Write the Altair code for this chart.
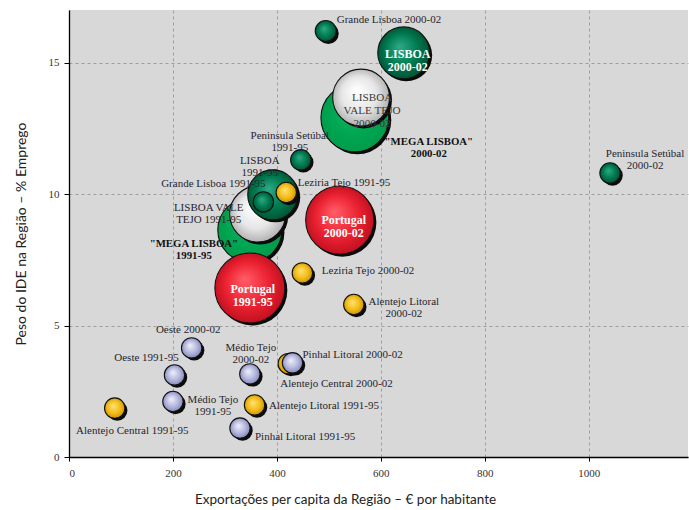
import altair as alt
import pandas as pd

# ---- data -------------------------------------------------------------
nomes = ["\"MEGA LISBOA\"", "\"MEGA LISBOA\"", "LISBOA VALE TEJO", "LISBOA VALE TEJO",
         "LISBOA", "LISBOA", "Grande Lisboa", "Grande Lisboa",
         "Peninsula Setúbal", "Peninsula Setúbal", "Portugal", "Portugal",
         "Leziria Tejo", "Leziria Tejo", "Alentejo Litoral", "Alentejo Litoral",
         "Alentejo Central", "Alentejo Central", "Oeste", "Oeste",
         "Médio Tejo", "Médio Tejo", "Pinhal Litoral", "Pinhal Litoral"]
periodos = ["2000-02", "1991-95", "2000-02", "1991-95",
            "2000-02", "1991-95", "2000-02", "1991-95",
            "1991-95", "2000-02", "1991-95", "2000-02",
            "1991-95", "2000-02", "1991-95", "2000-02",
            "1991-95", "2000-02", "1991-95", "2000-02",
            "1991-95", "2000-02", "1991-95", "2000-02"]
export_pc = [550, 348, 562, 363,
             644, 392, 494, 374,
             446, 1041, 348, 521,
             418, 449, 357, 548,
             88, 422, 203, 236,
             200, 348, 329, 430]
peso_ide = [12.9, 8.63, 13.67, 9.24,
            15.37, 9.97, 16.2, 9.7,
            11.3, 10.8, 6.43, 9.01,
            10.06, 7.0, 1.98, 5.8,
            1.86, 3.55, 3.12, 4.15,
            2.11, 3.16, 1.1, 3.58]
dimensao = [94, 84, 66, 64,
            55, 51, 9, 8.5,
            8.5, 8.5, 100, 95,
            8.5, 8.5, 8.5, 8.5,
            8.5, 8.5, 8.5, 8.5,
            8.5, 8.5, 8.5, 8.5]
grupos = ["mega", "mega", "lvt", "lvt",
          "lisboa", "lisboa", "lisboa", "lisboa",
          "lisboa", "lisboa", "portugal", "portugal",
          "amarelo", "amarelo", "amarelo", "amarelo",
          "amarelo", "amarelo", "lilas", "lilas",
          "lilas", "lilas", "lilas", "lilas"]
rotulos = ["\"MEGA LISBOA\"\n2000-02", "\"MEGA LISBOA\"\n1991-95",
           "LISBOA\nVALE TEJO\n2000-02", "LISBOA VALE\nTEJO 1991-95",
           "LISBOA\n2000-02", "LISBOA\n1991-95",
           "Grande Lisboa 2000-02", "Grande Lisboa 1991-95",
           "Peninsula Setúbal\n1991-95", "Peninsula Setúbal\n2000-02",
           "Portugal\n1991-95", "Portugal\n2000-02",
           "Leziria Tejo 1991-95", "Leziria Tejo 2000-02",
           "Alentejo Litoral 1991-95", "Alentejo Litoral\n2000-02",
           "Alentejo Central 1991-95", "Alentejo Central 2000-02",
           "Oeste 1991-95", "Oeste 2000-02",
           "Médio Tejo\n1991-95", "Médio Tejo\n2000-02",
           "Pinhal Litoral 1991-95", "Pinhal Litoral 2000-02"]

df = pd.DataFrame({
    "i": list(range(len(nomes))),
    "regiao": nomes, "periodo": periodos,
    "x": export_pc, "y": peso_ide, "dim": dimensao,
    "grupo": grupos, "rotulo": rotulos,
})

# ---- label placement (styling) ---------------------------------------
# (dx, dy, align, style)
label_place = [
    (74, 24.5, "center", "b"), (-56, 13.5, "center", "b"),
    (11, 0, "center", "g"), (-49, -6.5, "center", "n"),
    (4, 1, "center", "w"), (-13, -34, "center", "n"),
    (11, -11, "left", "n"), (-50, -18, "center", "n"),
    (-11, -24, "center", "n"), (35, -19, "center", "n"),
    (3, 1, "center", "w"), (4, -0.5, "center", "w"),
    (11.5, -9.5, "left", "n"), (19.5, -2, "left", "n"),
    (14.5, 1, "left", "n"), (50, -2, "center", "n"),
    (17.5, 23, "center", "n"), (-8, 20, "left", "n"),
    (-28, -17, "center", "n"), (-3.5, -18, "center", "n"),
    (40, -1.5, "center", "n"), (1, -26, "center", "n"),
    (15, 9, "left", "n"), (10, -8, "left", "n"),
]

SERIF = "Liberation Serif"

x_enc = alt.X("x:Q",
              scale=alt.Scale(domain=[0, 1191], nice=False, zero=True),
              axis=alt.Axis(values=[0, 200, 400, 600, 800, 1000], format="d",
                            title="Exportações per capita da Região – € por habitante",
                            titleX=276, titleY=42, titleAlign="center",
                            titleBaseline="middle", titleFontSize=13.5,
                            labelPadding=6, tickSize=4))
y_enc = alt.Y("y:Q",
              scale=alt.Scale(domain=[0, 17], nice=False, zero=True),
              axis=alt.Axis(values=[0, 5, 10, 15], format="d",
                            title="Peso do IDE na Região – % Emprego",
                            titleX=-48, titleY=223.5, titleAngle=-90,
                            titleAlign="center", titleBaseline="middle",
                            titleFontSize=14, labelPadding=5, tickSize=5))
size_enc = alt.Size("dim:Q", scale=alt.Scale(domain=[0, 100], range=[0, 4900]),
                    legend=None)

base = alt.Chart(df)


def grad(c0, c1, c2):
    return alt.RadialGradient(
        gradient="radial",
        stops=[alt.GradientStop(offset=0, color=c0),
               alt.GradientStop(offset=0.55, color=c1),
               alt.GradientStop(offset=1, color=c2)],
        x1=0.42, y1=0.38, r1=0.02, x2=0.5, y2=0.5, r2=0.55)


fills = {
    "mega": grad("#10b060", "#00a651", "#00994a"),
    "lvt": grad("#ffffff", "#e6e6e6", "#a9a9a9"),
    "lisboa": grad("#2aa883", "#007a50", "#004d30"),
    "portugal": grad("#ff5a64", "#ec2232", "#b80d1c"),
    "amarelo": grad("#ffe070", "#f3bd1a", "#c68c00"),
    "lilas": grad("#eceef8", "#b4b7dc", "#7d81b4"),
}

layers = []
for g in ["mega", "lvt", "lisboa", "portugal", "amarelo", "lilas"]:
    sub = base.transform_filter(alt.datum.grupo == g)
    shadow = sub.mark_circle(color="#0b0b0b", opacity=1, xOffset=2.5, yOffset=2.5).encode(
        x=x_enc, y=y_enc, size=size_enc)
    bubble = sub.mark_circle(fill=fills[g], opacity=1, fillOpacity=1,
                             stroke="#111111", strokeWidth=1.1).encode(
        x=x_enc, y=y_enc, size=size_enc)
    layers += [shadow, bubble]

styles = {
    "n": dict(font=SERIF, fontSize=11, color="#26262e", fontWeight="normal", lineHeight=12),
    "b": dict(font=SERIF, fontSize=10.8, color="#111111", fontWeight="bold", lineHeight=12),
    "w": dict(font=SERIF, fontSize=12, color="#ffffff", fontWeight="bold", lineHeight=13.5),
    "g": dict(font=SERIF, fontSize=11.2, color="#3a3a3a", fontWeight="normal", lineHeight=13),
}

for k, (dx, dy, align, st) in enumerate(label_place):
    txt = base.transform_filter(alt.datum.i == k).mark_text(
        dx=dx, dy=dy, align=align, baseline="middle", lineBreak="\n", **styles[st]
    ).encode(x=x_enc, y=y_enc, text="rotulo:N")
    layers.append(txt)

chart = alt.layer(*layers).properties(
    width=619, height=447,
    autosize=alt.AutoSizeParams(type="none"),
    padding={"left": 69, "top": 10, "right": 1, "bottom": 53},
    background="white",
).configure_view(
    fill="#d8d8d8", stroke=None
).configure_axis(
    domainColor="#000000", domainWidth=1.3,
    tickColor="#000000", tickWidth=1,
    gridColor="#8f8f8f", gridDash=[3, 3], gridWidth=0.8,
    labelFont=SERIF, labelFontSize=11, labelColor="#333333",
    titleFont="Lato", titleFontWeight="normal", titleColor="#222222",
)

chart.save("out.html", embed_options={"renderer": "svg", "actions": False})
